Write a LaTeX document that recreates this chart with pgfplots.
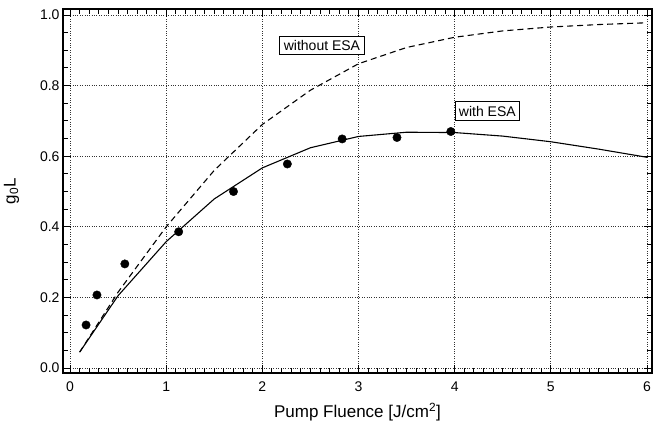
\documentclass[border=0pt]{standalone}
\usepackage{fontspec}
\setmainfont{Liberation Sans}
\usepackage{pgfplots}
\pgfplotsset{compat=1.18}
\begin{document}
\begin{tikzpicture}
\begin{axis}[
  scale only axis,
  width=589bp, height=364bp,
  xmin=-0.073, xmax=6.052,
  ymin=-0.014, ymax=1.017,
  xtick={0,1,2,3,4,5,6},
  ytick={0,0.2,0.4,0.6,0.8,1.0},
  minor x tick num=9,
  minor y tick num=3,
  yticklabel style={/pgf/number format/.cd,fixed,fixed zerofill,precision=1},
  xticklabel style={yshift=-5bp},
  /pgf/number format/assume math mode=true,
  tick label style={font=\fontsize{14bp}{16bp}\selectfont},
  label style={font=\fontsize{17bp}{19bp}\selectfont},
  xlabel={Pump Fluence [J/cm\textsuperscript{2}]},
  ylabel={g\textsubscript{0}L},
  xlabel style={yshift=-5bp},
  ylabel style={yshift=14bp},
  tick align=inside,
  major tick length=8bp,
  minor tick length=5bp,
  every tick/.style={black, line width=1pt},
  axis line style={line width=1.5pt},
  grid=major,
  major grid style={dotted, black!80, line width=0.7pt},
  xtick pos=both, ytick pos=both,
  xticklabel pos=lower, yticklabel pos=left,
  clip=false,
]
\addplot[black, line width=1.1pt, dash pattern=on 6bp off 4bp] coordinates {
(0.1,0.045) (0.5,0.215) (1.0,0.400) (1.5,0.560) (2.0,0.690) (2.5,0.787)
(3.0,0.862) (3.5,0.908) (4.0,0.937) (4.5,0.955) (5.0,0.966) (5.5,0.973) (6.0,0.978)};
\addplot[black, line width=1.1pt] coordinates {
(0.1,0.045) (0.5,0.205) (1.0,0.358) (1.5,0.479) (2.0,0.567) (2.5,0.624)
(3.0,0.656) (3.5,0.668) (4.0,0.667) (4.5,0.657) (5.0,0.641) (5.5,0.620) (6.0,0.597)};
\addplot[only marks, mark=*, mark size=4.2bp, black] coordinates {
(0.167,0.122) (0.28,0.207) (0.57,0.295) (1.13,0.386) (1.70,0.500)
(2.26,0.578) (2.83,0.649) (3.40,0.653) (3.96,0.670)};
\node[draw, fill=white, line width=0.8pt, inner xsep=4bp, inner ysep=4bp,
  font=\fontsize{14bp}{16bp}\selectfont] at (axis cs:2.62,0.914) {without ESA};
\node[draw, fill=white, line width=0.8pt, inner xsep=4bp, inner ysep=4bp,
  font=\fontsize{14bp}{16bp}\selectfont] at (axis cs:4.34,0.728) {with ESA};
\end{axis}
\pgfresetboundingbox
\path[use as bounding box] ([xshift=-63bp,yshift=-56bp]current axis.south west) rectangle ([xshift=1bp,yshift=9bp]current axis.north east);
\end{tikzpicture}
\end{document}
